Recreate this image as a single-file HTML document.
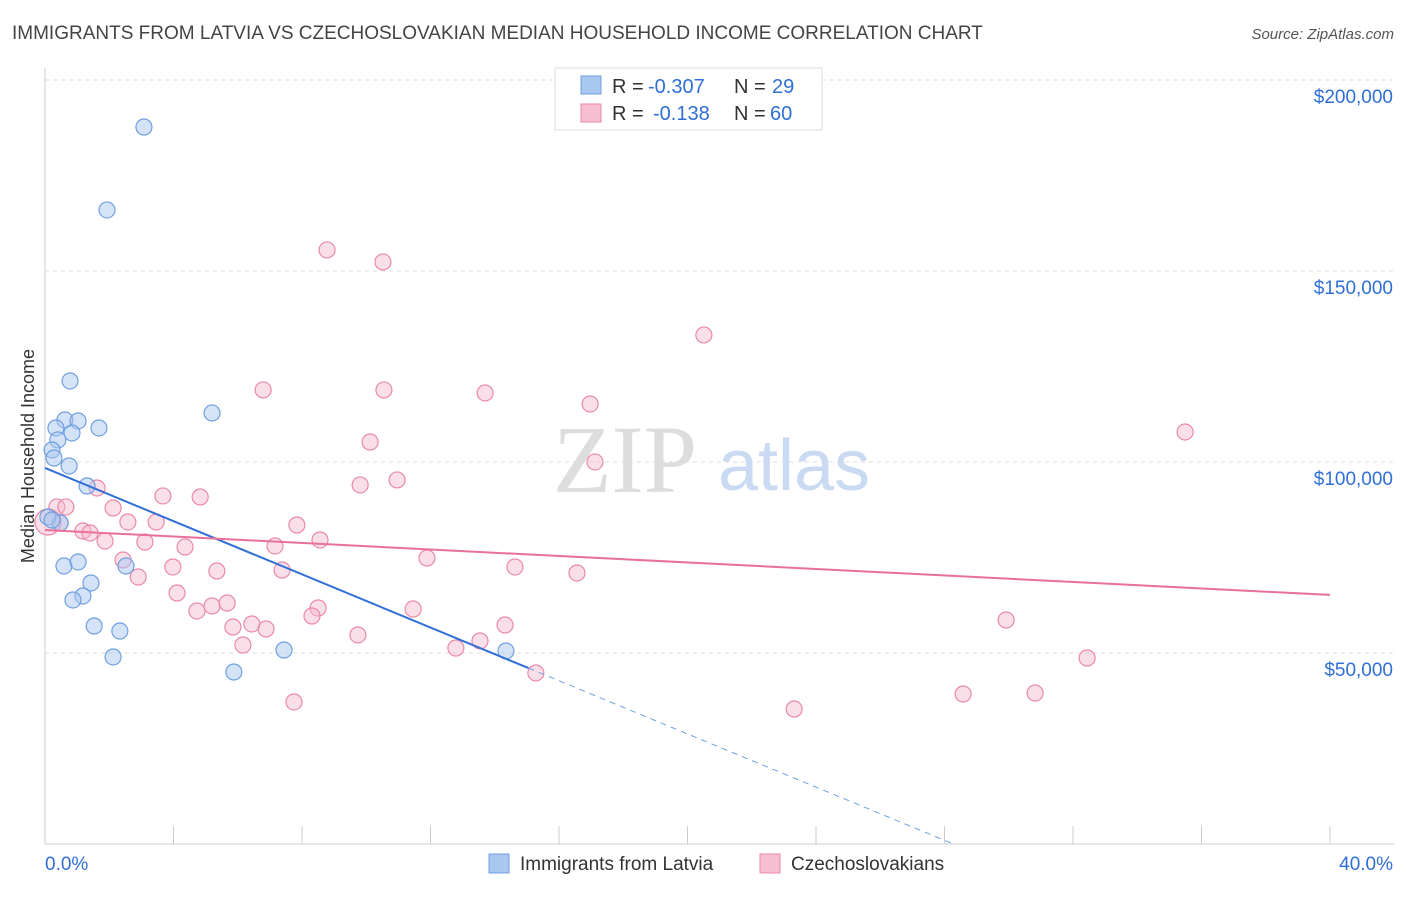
<!DOCTYPE html>
<html><head><meta charset="utf-8"><style>
body{margin:0;background:#fff;font-family:"Liberation Sans",sans-serif;}
</style></head><body>
<svg width="1406" height="892" xmlns="http://www.w3.org/2000/svg" font-family="Liberation Sans, sans-serif">
<text x="12" y="39" font-size="19" fill="#444">IMMIGRANTS FROM LATVIA VS CZECHOSLOVAKIAN MEDIAN HOUSEHOLD INCOME CORRELATION CHART</text>
<text x="1394" y="39" font-size="15" fill="#555" text-anchor="end" font-style="italic">Source: ZipAtlas.com</text>
<g id="grid"></g>
<text x="553" y="492" font-size="96" fill="#ddd" font-family="Liberation Serif, serif">ZIP</text>
<text x="718" y="490" font-size="72" fill="#c9daf2">atlas</text>
<text transform="translate(34,456) rotate(-90)" font-size="18" fill="#333" text-anchor="middle">Median Household Income</text>
<g id="marks"></g>
<g>
<rect x="555" y="68" width="267" height="62" fill="#fff" stroke="#ddd"/>
<rect x="581" y="76" width="20" height="18" fill="#a9c8f0" stroke="#6f9fe0"/>
<rect x="581" y="104" width="20" height="18" fill="#f6c0d2" stroke="#e88aa8"/>
<text x="612" y="93" font-size="20" fill="#333">R =</text>
<text x="648" y="93" font-size="20" fill="#2f6fd6">-0.307</text>
<text x="734" y="93" font-size="20" fill="#333">N =</text>
<text x="772" y="93" font-size="20" fill="#2f6fd6">29</text>
<text x="612" y="120" font-size="20" fill="#333">R =</text>
<text x="653" y="120" font-size="20" fill="#2f6fd6">-0.138</text>
<text x="734" y="120" font-size="20" fill="#333">N =</text>
<text x="770" y="120" font-size="20" fill="#2f6fd6">60</text>
</g>
<g>
<rect x="489" y="854" width="20" height="19" fill="#a9c8f0" stroke="#6f9fe0"/>
<text x="520" y="870" font-size="19" fill="#333">Immigrants from Latvia</text>
<rect x="760" y="854" width="20" height="19" fill="#f6c0d2" stroke="#e88aa8"/>
<text x="791" y="870" font-size="19" fill="#333">Czechoslovakians</text>
</g>
</svg>
<script>
const yTicks=[50000,100000,150000,200000];
const yTickLabels=["$50,000","$100,000","$150,000","$200,000"];
const xTicks=[0,4,8,12,16,20,24,28,32,36,40];
const latviaX=[3.08,1.93,0.78,5.20,0.62,1.03,0.34,1.68,0.84,0.40,0.22,0.28,0.75,1.31,0.47,0.59,1.03,2.52,1.43,1.18,0.87,1.53,2.33,2.12,5.88,7.44,14.35,0.09,0.22];
const latviaY=[187700,165980,121210,112840,111000,110740,108910,108910,107600,105770,103150,101050,98960,93720,84040,72780,73830,72780,68330,64930,63880,57070,55760,48960,45030,50790,50530,85610,84820];
const czechX=[8.78,10.52,20.51,6.79,10.55,13.70,16.97,35.49,10.12,17.12,9.81,10.96,1.62,3.67,4.83,0.37,0.65,2.12,2.58,3.46,7.84,0.47,1.18,1.40,1.87,3.11,8.56,4.36,7.16,2.43,11.89,3.98,5.35,7.38,14.63,16.56,2.90,4.11,5.20,5.67,4.73,8.50,8.31,11.46,5.85,6.44,6.88,14.32,29.92,9.74,6.16,13.54,12.79,32.44,15.28,28.58,30.82,7.75,23.32,0.09];
const czechY=[155510,152370,133260,118860,118860,118070,115190,107860,105240,100010,93990,95300,93200,91110,90840,88230,88230,87960,84300,84300,83510,84040,81940,81420,79330,79060,79590,77750,78020,74350,74870,72520,71470,71730,72520,70950,69900,65710,62310,63090,61000,61780,59690,61520,56810,57600,56290,57330,58640,54720,52100,53150,51310,48690,44770,39270,39530,37180,35340,84300];
const latviaTrend=[98440,-3481];
const czechTrend=[82200,-425];
const NS="http://www.w3.org/2000/svg";
const sx=v=>45+v*(1330-45)/40;
const sy=v=>844-v*191/50000;
function mk(t,a,p){const e=document.createElementNS(NS,t);for(const k in a)e.setAttribute(k,a[k]);p.appendChild(e);return e;}
const grid=document.getElementById('grid'),marks=document.getElementById('marks');
const ax=mk('line',{x1:45,y1:68,x2:45,y2:844,stroke:'#ccc'},grid);


const bx=mk('line',{x1:45,y1:844,x2:1394,y2:844,stroke:'#ccc'},grid);


mk('line',{x1:45,y1:80,x2:1394,y2:80,stroke:'#ddd','stroke-dasharray':'4,4'},grid);
yTicks.forEach((t,i)=>{
 const g=mk('line',{x1:45,y1:sy(t),x2:1394,y2:sy(t),stroke:'#ddd','stroke-dasharray':'4,4'},grid);
 
 
 const l=mk('text',{x:1393,y:sy(t)+23,'font-size':19,fill:'#2f6fd6','text-anchor':'end'},grid);
 l.textContent=yTickLabels[i];
 
 
});
xTicks.forEach(t=>{
 const m=mk('line',{x1:sx(t),y1:826,x2:sx(t),y2:844,stroke:'#ccc'},grid);
 
 
});
const x0=mk('text',{x:45,y:870,'font-size':19,fill:'#2f6fd6'},grid);x0.textContent='0.0%';


const x1=mk('text',{x:1393,y:870,'font-size':19,fill:'#2f6fd6','text-anchor':'end'},grid);x1.textContent='40.0%';


czechX.forEach((x,i)=>{
 const c=mk('circle',{cx:sx(x),cy:sy(czechY[i]),r:i==czechX.length-1?13:8,fill:'rgba(246,184,204,0.45)',stroke:'#e88aa8','stroke-width':1.2},marks);
 
 
});
latviaX.forEach((x,i)=>{
 const c=mk('circle',{cx:sx(x),cy:sy(latviaY[i]),r:8,fill:'rgba(169,200,240,0.5)',stroke:'#6f9fe0','stroke-width':1.2},marks);
 
 
});
const lt=x=>latviaTrend[0]+latviaTrend[1]*x, ct=x=>czechTrend[0]+czechTrend[1]*x;
const xe=Math.max(...latviaX)+0.7, xz=-latviaTrend[0]/latviaTrend[1];
const l1=mk('line',{x1:sx(0),y1:sy(lt(0)),x2:sx(xe),y2:sy(lt(xe)),stroke:'#2f6fd6','stroke-width':2},marks);


const l2=mk('line',{x1:sx(xe),y1:sy(lt(xe)),x2:sx(xz),y2:sy(0),stroke:'#6f9fe0','stroke-width':1,'stroke-dasharray':'6,5'},marks);


const l3=mk('line',{x1:sx(0),y1:sy(ct(0)),x2:sx(40),y2:sy(ct(40)),stroke:'#e8709a','stroke-width':2},marks);


</script>
</body></html>
